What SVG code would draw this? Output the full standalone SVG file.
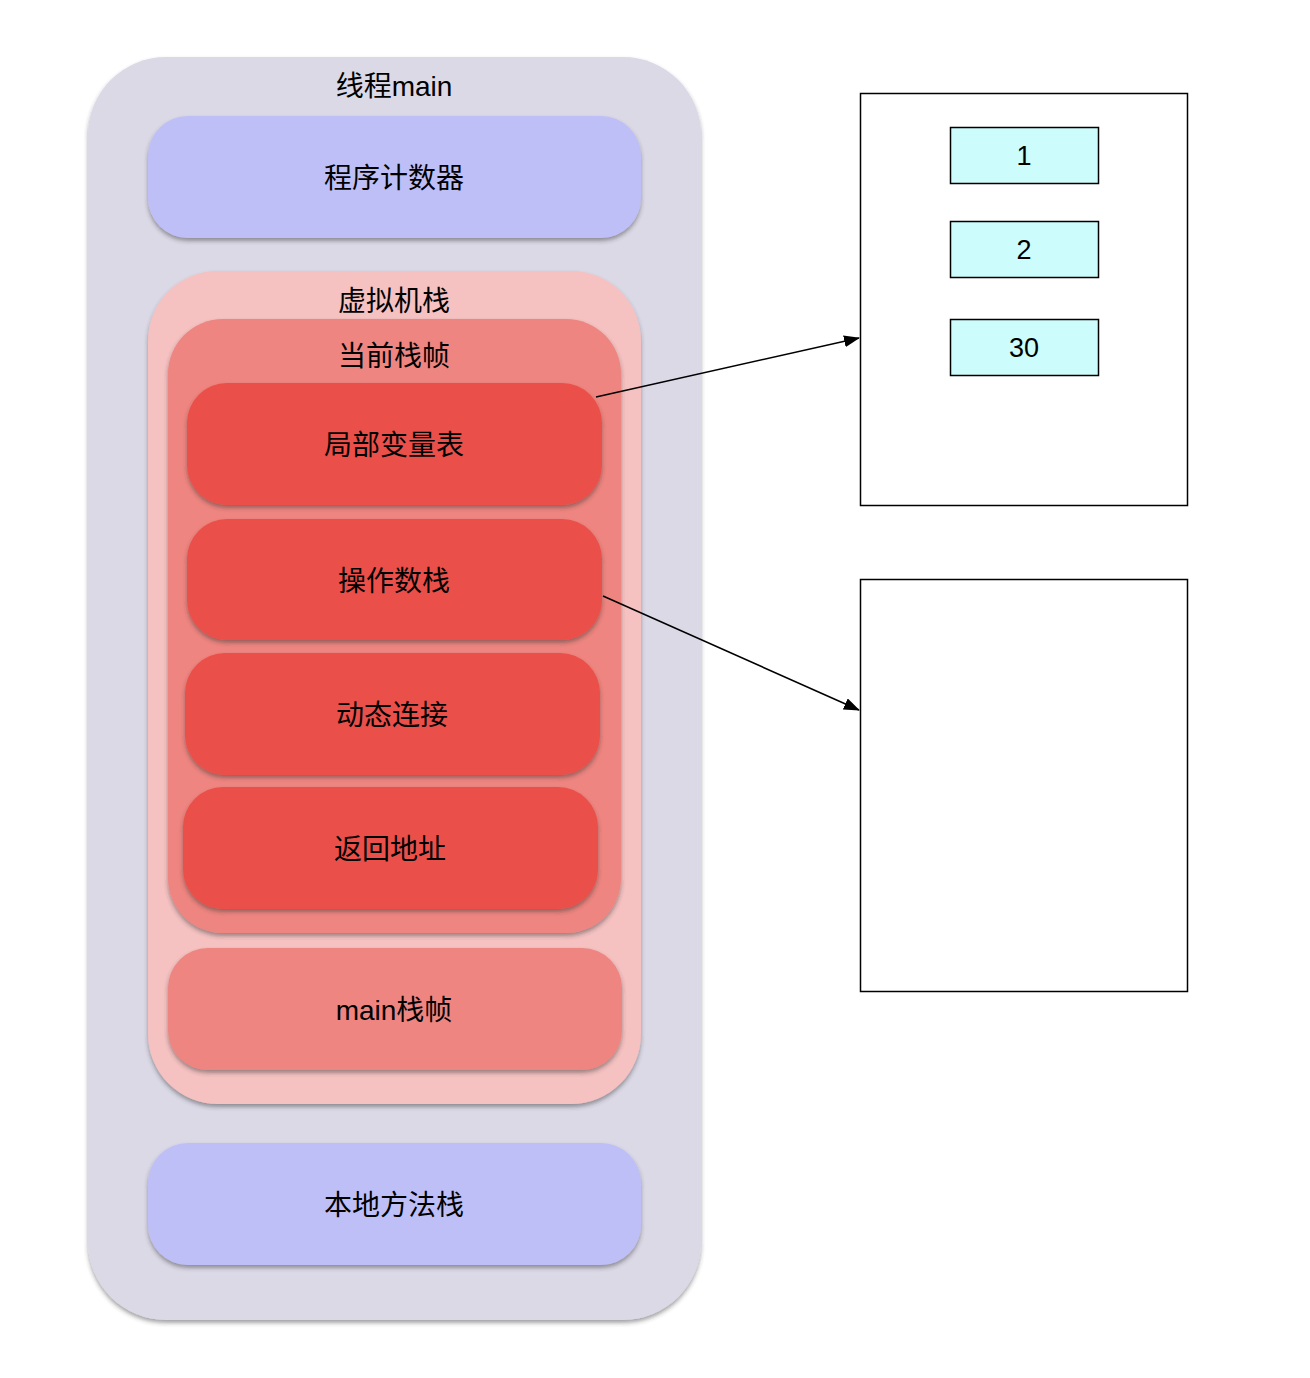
<svg xmlns="http://www.w3.org/2000/svg" width="1310" height="1378" viewBox="0 0 1310 1378">
<defs>
<filter id="sh" x="-10%" y="-10%" width="120%" height="120%">
<feDropShadow dx="0" dy="3" stdDeviation="2" flood-color="#333" flood-opacity="0.45"/>
</filter>
<marker id="arr" markerWidth="16" markerHeight="12" refX="15" refY="6" orient="auto" markerUnits="userSpaceOnUse">
<path d="M0,0 L16,6 L0,12 Z" fill="#000"/>
</marker>
<style>
text{font-family:"Liberation Sans","Noto Sans CJK SC",sans-serif;font-size:28px;fill:#000;text-anchor:middle;dominant-baseline:central}
.num{font-size:27px}
.thread{fill:#dbd9e6}
.blue{fill:#bfbff8}
.vms{fill:#f5c1c1}
.frame{fill:#ef8580}
.red{fill:#eb5048}
.box{fill:#fff;stroke:#000;stroke-width:1.5}
.cell{fill:#ccfcfc;stroke:#000;stroke-width:1.5}
.conn{stroke:#000;stroke-width:1.5;fill:none}
</style>
</defs>
<rect width="1310" height="1378" fill="#fff"/>
<g id="thread-main">
<rect class="thread" x="88" y="57" width="613" height="1263" rx="78" filter="url(#sh)"/>
<text x="394" y="86">线程main</text>
</g>
<g id="pc">
<rect class="blue" x="148" y="116" width="493" height="122" rx="40" filter="url(#sh)"/>
<text x="394" y="178">程序计数器</text>
</g>
<g id="vm-stack">
<rect class="vms" x="148" y="271" width="493" height="833" rx="70" filter="url(#sh)"/>
<text x="394" y="301">虚拟机栈</text>
</g>
<g id="current-frame">
<rect class="frame" x="168" y="319" width="453" height="614" rx="55" filter="url(#sh)"/>
<text x="394" y="356">当前栈帧</text>
</g>
<g id="local-vars">
<rect class="red" x="187" y="383" width="415" height="122" rx="40" filter="url(#sh)"/>
<text x="394" y="445">局部变量表</text>
</g>
<g id="operand-stack">
<rect class="red" x="187" y="519" width="415" height="121" rx="40" filter="url(#sh)"/>
<text x="394" y="581">操作数栈</text>
</g>
<g id="dynamic-link">
<rect class="red" x="185" y="653" width="415" height="122" rx="40" filter="url(#sh)"/>
<text x="392" y="715">动态连接</text>
</g>
<g id="return-addr">
<rect class="red" x="183" y="787" width="415" height="122" rx="40" filter="url(#sh)"/>
<text x="390" y="849">返回地址</text>
</g>
<g id="main-frame">
<rect class="frame" x="168" y="948" width="454" height="122" rx="40" filter="url(#sh)"/>
<text x="394" y="1010">main栈帧</text>
</g>
<g id="native-stack">
<rect class="blue" x="148" y="1143" width="493" height="122" rx="40" filter="url(#sh)"/>
<text x="394" y="1205">本地方法栈</text>
</g>
<g id="box-locals">
<rect class="box" x="860.5" y="93.5" width="327" height="412"/>
</g>
<g id="cell-1">
<rect class="cell" x="950.5" y="127.5" width="148" height="56"/>
<text class="num" x="1024" y="156">1</text>
</g>
<g id="cell-2">
<rect class="cell" x="950.5" y="221.5" width="148" height="56"/>
<text class="num" x="1024" y="250">2</text>
</g>
<g id="cell-30">
<rect class="cell" x="950.5" y="319.5" width="148" height="56"/>
<text class="num" x="1024" y="348">30</text>
</g>
<g id="box-operand">
<rect class="box" x="860.5" y="579.5" width="327" height="412"/>
</g>
<g id="connectors">
<line class="conn" x1="596" y1="397" x2="859" y2="338" marker-end="url(#arr)"/>
<line class="conn" x1="603" y1="596" x2="859" y2="710" marker-end="url(#arr)"/>
</g>
</svg>
